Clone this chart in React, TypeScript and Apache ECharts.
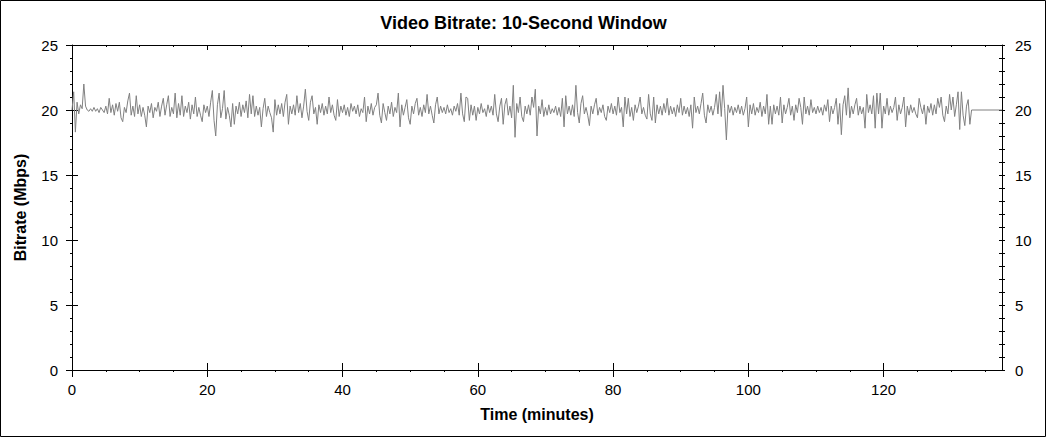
import React, { useEffect, useRef } from "react";
import * as echarts from "echarts";

const chartTitle = "Video Bitrate: 10-Second Window";
const xAxisTitle = "Time (minutes)";
const yAxisTitle = "Bitrate (Mbps)";

// bitrate samples (Mbps), one every 0.25 min starting at 0 min
const sampleStepMin = 0.25;
const bitrate: number[] = [
  // 0-5
  20.0, 21.4, 18.3, 20.6, 19.7, 20.4, 20.1, 22.0, 20.3, 20.0, 19.9, 20.1, 19.9, 20.2, 19.9, 20.1, 19.8, 20.2, 20.0, 19.8,
  // 5-10
  20.3, 19.7, 20.9, 19.8, 20.4, 19.6, 20.5, 19.9, 20.6, 19.4, 19.1, 20.2, 19.8, 20.7, 21.3, 19.6, 20.3, 19.5, 21.1, 19.7,
  // 10-15
  20.4, 19.5, 20.2, 19.6, 18.7, 20.3, 19.8, 20.5, 19.4, 20.2, 19.9, 20.6, 19.5, 20.3, 20.9, 19.6, 20.4, 21.1, 19.5, 20.2,
  // 15-20
  19.7, 21.3, 19.4, 20.5, 19.6, 21.1, 19.5, 20.3, 19.8, 20.6, 19.3, 20.4, 19.7, 21.0, 19.5, 20.2, 19.6, 19.1, 20.4, 19.8,
  // 20-25
  20.3, 19.5, 20.6, 21.5, 19.2, 18.0, 20.4, 21.3, 19.4, 20.1, 21.5, 19.3, 20.2, 19.6, 18.7, 20.5, 18.9, 20.3, 19.7, 20.6,
  // 25-30
  19.5, 20.4, 19.8, 20.7, 19.4, 21.2, 19.7, 21.1, 19.5, 20.3, 19.6, 20.2, 18.7, 20.1, 20.9, 19.5, 20.3, 19.8, 19.4, 18.3,
  // 30-35
  20.8, 19.6, 20.4, 19.7, 20.5, 19.5, 20.6, 21.2, 18.9, 20.3, 19.7, 20.4, 19.6, 21.1, 19.8, 20.5, 19.4, 20.3, 21.6, 19.9,
  // 35-40
  19.2, 20.6, 21.1, 19.7, 20.2, 18.9, 20.4, 19.8, 20.5, 19.6, 20.3, 19.7, 21.0, 19.8, 20.4, 19.6, 19.2, 20.8, 19.5, 20.3,
  // 40-45
  19.8, 20.4, 19.6, 20.2, 19.5, 20.5, 19.9, 20.3, 19.7, 20.4, 19.5, 20.1, 19.8, 21.0, 19.1, 20.3, 19.7, 20.5, 19.6, 20.2,
  // 45-50
  20.4, 21.3, 19.6, 19.0, 20.5, 19.8, 19.2, 20.3, 19.7, 20.6, 19.5, 20.2, 19.8, 21.3, 18.7, 20.4, 19.6, 20.2, 20.8, 19.4,
  // 50-55
  18.9, 20.3, 19.7, 20.5, 20.9, 19.6, 20.2, 19.5, 20.4, 19.8, 21.2, 19.7, 20.3, 19.6, 19.0, 20.4, 21.0, 19.7, 20.3, 19.8,
  // 55-60
  20.2, 19.7, 20.4, 19.8, 20.1, 19.6, 20.3, 19.9, 20.5, 19.6, 21.3, 19.7, 19.1, 21.0, 20.9, 19.2, 20.4, 19.6, 20.3, 19.2,
  // 60-65
  20.2, 19.7, 20.5, 19.8, 20.1, 19.5, 20.4, 19.8, 20.3, 19.6, 21.2, 19.7, 19.1, 20.3, 20.9, 18.9, 20.4, 20.9, 19.6, 20.3,
  // 65-70
  19.4, 21.9, 17.9, 20.5, 19.8, 21.0, 19.5, 19.1, 20.3, 19.7, 20.4, 19.6, 21.0, 20.2, 21.6, 18.0, 20.3, 19.7, 20.8, 19.5,
  // 70-75
  20.2, 19.6, 20.4, 19.7, 20.1, 19.8, 20.3, 19.6, 20.2, 19.5, 20.9, 18.7, 21.1, 19.7, 20.3, 19.6, 20.4, 19.5, 21.9, 19.8,
  // 75-80
  19.0, 20.5, 21.1, 19.7, 20.2, 19.6, 18.8, 20.3, 19.7, 20.4, 20.9, 19.6, 20.2, 19.8, 20.4, 19.5, 19.2, 20.3, 19.8, 20.5,
  // 80-85
  19.7, 20.3, 19.6, 21.0, 19.8, 20.2, 18.7, 21.0, 19.7, 20.9, 19.5, 20.2, 19.2, 20.4, 19.8, 20.3, 21.0, 19.7, 20.2, 19.6,
  // 85-90
  19.3, 21.2, 19.7, 19.2, 21.0, 19.0, 20.4, 19.7, 20.3, 19.6, 20.5, 19.8, 20.9, 19.6, 20.3, 19.7, 20.2, 19.5, 20.4, 19.8,
  // 90-95
  20.9, 19.6, 20.3, 19.7, 20.2, 19.5, 20.4, 18.6, 21.0, 19.8, 20.3, 19.7, 20.5, 21.3, 19.6, 19.0, 20.4, 19.8, 20.3, 19.6,
  // 95-100
  20.2, 21.2, 19.7, 21.4, 19.5, 21.9, 20.1, 17.7, 20.4, 19.8, 20.3, 19.6, 20.2, 19.8, 20.4, 19.7, 20.3, 19.6, 20.1, 21.0,
  // 100-105
  18.7, 20.4, 19.7, 20.5, 19.6, 20.2, 19.8, 20.6, 19.5, 20.3, 19.7, 21.2, 18.9, 20.3, 18.9, 20.4, 19.7, 20.3, 19.6, 21.0,
  // 105-110
  19.0, 20.4, 19.7, 20.2, 20.9, 19.6, 20.3, 19.2, 20.4, 19.8, 20.9, 20.2, 18.9, 21.0, 19.7, 20.3, 19.6, 20.8, 19.8, 20.2,
  // 110-115
  19.7, 20.3, 19.8, 20.2, 19.6, 20.4, 19.9, 20.8, 19.1, 20.3, 19.7, 20.2, 20.9, 18.9, 20.5, 18.1, 20.4, 21.1, 19.6, 21.7,
  // 115-120
  19.4, 20.3, 19.7, 20.4, 20.9, 19.6, 20.3, 19.7, 20.2, 18.6, 21.2, 19.8, 20.4, 19.7, 21.1, 18.6, 21.3, 19.7, 21.3, 18.6,
  // 120-125
  20.3, 19.7, 20.9, 19.6, 20.3, 19.8, 20.2, 21.0, 19.2, 20.4, 19.7, 20.2, 21.0, 18.7, 20.3, 19.6, 20.4, 19.8, 20.2, 19.7,
  // 125-130
  19.4, 20.9, 20.2, 19.7, 20.4, 18.9, 20.3, 19.8, 20.5, 19.6, 20.4, 19.7, 20.9, 20.2, 21.0, 19.6, 19.1, 20.3, 19.7, 21.2,
  // 130-132.75
  20.0, 21.0, 19.5, 20.4, 21.4, 18.5, 21.4, 19.6, 18.8, 20.3, 20.8, 18.9,
];
// flat tail after the end of the video
const tailMinutes = [133, 137.5];
const tailBitrate = [20.0, 20.0];

const xMin = 0;
const xMax = 137.5;
const xMajorTicks = [0, 20, 40, 60, 80, 100, 120];
const xMinorTicks = [0, 5, 10, 15, 20, 25, 30, 35, 40, 45, 50, 55, 60, 65, 70, 75, 80, 85, 90, 95, 100, 105, 110, 115, 120, 125, 130, 135];
const yMin = 0;
const yMax = 25;
const yInterval = 5;

const FONT = "Arial, 'Liberation Sans', sans-serif";

export default function App() {
  const ref = useRef<HTMLDivElement>(null);
  useEffect(() => {
    if (!ref.current) return;
    const chart = echarts.init(ref.current, undefined, { renderer: "svg" });
    const data: [number, number][] = bitrate.map((v, i) => [i * sampleStepMin, v]);
    tailMinutes.forEach((m, i) => data.push([m, tailBitrate[i]]));

    const axisLineStyle = { show: true, onZero: false, lineStyle: { color: "#000", width: 1 } };
    const noLine = { show: false, onZero: false };
    const baseX = { type: "value", min: xMin, max: xMax, splitLine: { show: false } };
    const baseY = { type: "value", min: yMin, max: yMax, interval: yInterval, splitLine: { show: false } };

    chart.setOption({
      animation: false,
      backgroundColor: "#fff",
      title: {
        text: chartTitle,
        left: "center",
        top: 9,
        textStyle: { fontFamily: FONT, fontSize: 18, fontWeight: "bold", color: "#000" },
      },
      grid: { left: 72, right: 45, top: 45, bottom: 68, containLabel: false },
      xAxis: [
        {
          ...baseX,
          position: "bottom",
          axisLine: axisLineStyle,
          axisTick: { show: true, inside: false, length: 7, customValues: xMajorTicks, lineStyle: { color: "#000" } },
          axisLabel: { customValues: xMajorTicks, fontFamily: FONT, fontSize: 15, color: "#000", margin: 12 },
          name: xAxisTitle,
          nameLocation: "middle",
          nameGap: 36,
          nameTextStyle: { fontFamily: FONT, fontSize: 16, fontWeight: "bold", color: "#000" },
        },
        {
          ...baseX,
          position: "bottom",
          axisLine: noLine,
          axisTick: { show: true, inside: true, length: 7, customValues: xMajorTicks, lineStyle: { color: "#000" } },
          axisLabel: { show: false },
        },
        {
          ...baseX,
          position: "bottom",
          axisLine: noLine,
          axisTick: { show: true, inside: false, length: 2, customValues: xMinorTicks, lineStyle: { color: "#000" } },
          axisLabel: { show: false },
        },
        {
          ...baseX,
          position: "top",
          axisLine: axisLineStyle,
          axisTick: { show: true, inside: true, length: 5, customValues: xMajorTicks, lineStyle: { color: "#000" } },
          axisLabel: { show: false },
        },
        {
          ...baseX,
          position: "top",
          axisLine: noLine,
          axisTick: { show: true, inside: true, length: 2, customValues: xMinorTicks, lineStyle: { color: "#000" } },
          axisLabel: { show: false },
        },
      ],
      yAxis: [
        {
          ...baseY,
          position: "left",
          axisLine: axisLineStyle,
          axisTick: { show: true, inside: false, length: 6, lineStyle: { color: "#000" } },
          minorTick: { show: true, splitNumber: 5, length: 2, lineStyle: { color: "#000" } },
          axisLabel: { fontFamily: FONT, fontSize: 15, color: "#000", margin: 14 },
          name: yAxisTitle,
          nameLocation: "middle",
          nameGap: 44,
          nameTextStyle: { fontFamily: FONT, fontSize: 16, fontWeight: "bold", color: "#000" },
        },
        {
          ...baseY,
          position: "left",
          axisLine: noLine,
          axisTick: { show: true, inside: true, length: 6, lineStyle: { color: "#000" } },
          axisLabel: { show: false },
        },
        {
          ...baseY,
          position: "right",
          axisLine: axisLineStyle,
          axisTick: { show: true, inside: true, length: 3, lineStyle: { color: "#000" } },
          minorTick: { show: true, splitNumber: 5, length: 3, lineStyle: { color: "#000" } },
          axisLabel: { fontFamily: FONT, fontSize: 15, color: "#000", margin: 13 },
        },
        {
          ...baseY,
          position: "right",
          axisLine: noLine,
          axisTick: { show: true, inside: false, length: 3, lineStyle: { color: "#000" } },
          minorTick: { show: true, splitNumber: 5, length: 3, lineStyle: { color: "#000" } },
          axisLabel: { show: false },
        },
      ],
      graphic: [
        {
          type: "rect",
          shape: { x: 0.5, y: 0.5, width: 1045, height: 436 },
          style: { fill: "none", stroke: "#000", lineWidth: 1 },
          silent: true,
        },
      ],
      series: [
        {
          type: "line",
          xAxisIndex: 0,
          yAxisIndex: 0,
          data,
          showSymbol: false,
          symbol: "none",
          lineStyle: { color: "#808080", width: 1 },
          emphasis: { disabled: true },
        },
      ],
    });
    return () => chart.dispose();
  }, []);
  return <div ref={ref} style={{ position: "absolute", left: 0, top: 0, width: 1047, height: 438 }} />;
}
